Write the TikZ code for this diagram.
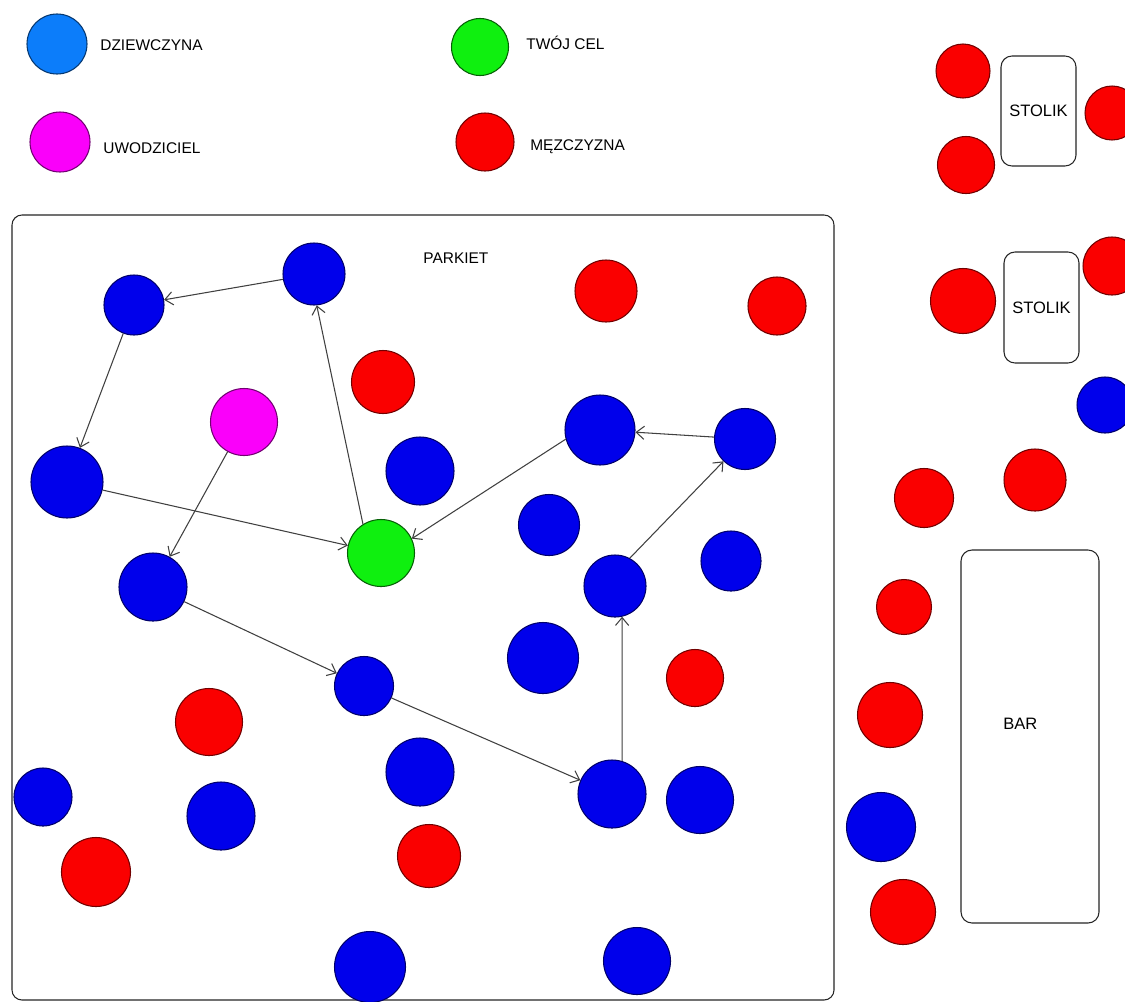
\documentclass[tikz,border=0pt]{standalone}
\usepackage{fontspec}
\setmainfont{Liberation Sans}
\usetikzlibrary{arrows.meta}
\definecolor{cblue}{RGB}{0,0,235}
\definecolor{clblue}{RGB}{12,125,250}
\definecolor{cred}{RGB}{250,0,0}
\definecolor{cgreen}{RGB}{15,240,15}
\definecolor{cmag}{RGB}{250,0,250}
\begin{document}
\begin{tikzpicture}[x=0.02cm,y=-0.02cm,
  pers/.style={circle,inner sep=0pt,line width=0.6pt,minimum size=#1*0.02cm},
  girl/.style={pers=#1,fill=cblue,draw=cblue!45!black},
  lgirl/.style={pers=#1,fill=clblue,draw=clblue!45!black},
  man/.style={pers=#1,fill=cred,draw=cred!45!black},
  seducer/.style={pers=#1,fill=cmag,draw=cmag!45!black},
  target/.style={pers=#1,fill=cgreen,draw=cgreen!40!black},
  arr/.style={draw=black!75,line width=0.6pt,-{Straight Barb[length=4.5pt,width=7.5pt]}},
  box/.style={draw=black!85,line width=0.6pt,rounded corners=0.22cm,inner sep=0pt,
    font=\fontsize{9.4}{11}\selectfont},
  lbl/.style={anchor=base west,inner sep=0pt,font=\fontsize{8.8}{10}\selectfont}]
\useasboundingbox (0,0) rectangle (1125,1001);
\clip (0,0) rectangle (1125,1001);
\fill[white] (0,0) rectangle (1125,1001);

% legend
\node[lgirl=60] (lg1) at (57,44) {};
\node[lbl] (lt1) at (100,50) {DZIEWCZYNA};
\node[seducer=60] (lg2) at (60,142) {};
\node[lbl] (lt2) at (103,153) {UWODZICIEL};
\node[target=57] (lg3) at (480,47) {};
\node[lbl] (lt3) at (526,49) {TWÓJ CEL};
\node[man=58] (lg4) at (485,142) {};
\node[lbl] (lt4) at (530,150) {MĘZCZYZNA};

% dance floor
\draw[draw=black!85,line width=0.6pt,rounded corners=0.2cm] (12,215) rectangle (834,1000);
\node[lbl] (parkiet) at (423,263) {PARKIET};

% tables and bar
\node[box,minimum width=75*0.02cm,minimum height=110*0.02cm] (st1) at (1038.5,111) {STOLIK};
\node[box,minimum width=75*0.02cm,minimum height=111*0.02cm] (st2) at (1041.5,307.5) {STOLIK};
\node[box,minimum width=138*0.02cm,minimum height=373*0.02cm] (bar) at (1030,736.5) {};
\node[lbl,font=\fontsize{9.4}{11}\selectfont] (bartxt) at (1003,729) {BAR};

% people on the floor
\node[girl=62] (A) at (314,274) {};
\node[girl=60] (B) at (134,305) {};
\node[man=62] (r1) at (606,291) {};
\node[man=58] (r2) at (777,306) {};
\node[man=63] (r3) at (383,382) {};
\node[seducer=67] (M) at (244,422) {};
\node[girl=72] (C) at (67,482) {};
\node[girl=68] (b1) at (420,471) {};
\node[girl=70] (D) at (600,430) {};
\node[girl=61] (E) at (745,439) {};
\node[target=67] (goal) at (381,553) {};
\node[girl=61] (b2) at (549,525) {};
\node[girl=60] (b3) at (731,561) {};
\node[girl=68] (F) at (153,587) {};
\node[girl=62] (G) at (615,586) {};
\node[girl=71] (b4) at (543,658) {};
\node[man=57] (r4) at (695,678) {};
\node[man=67] (r5) at (209,722) {};
\node[girl=59] (H) at (364,686) {};
\node[girl=68] (b5) at (420,772) {};
\node[girl=58] (b6) at (43,797) {};
\node[girl=68] (b7) at (221,816) {};
\node[girl=68] (I) at (612,794) {};
\node[girl=67] (b8) at (700,800) {};
\node[man=69] (r6) at (96,872) {};
\node[man=63] (r7) at (429,856) {};
\node[girl=71] (b9) at (370,967) {};
\node[girl=67] (b10) at (637,961) {};

% people outside the floor
\node[man=54] (r8) at (963,71) {};
\node[man=57] (r9) at (966,165) {};
\node[man=54] (r10) at (1112,113) {};
\node[man=65] (r11) at (963,301) {};
\node[man=58] (r12) at (1112,266) {};
\node[girl=56] (b11) at (1105,405) {};
\node[man=62] (r13) at (1035,480) {};
\node[man=59] (r14) at (924,498) {};
\node[man=55] (r15) at (904,607) {};
\node[man=65] (r16) at (890,715) {};
\node[girl=69] (b12) at (881,827) {};
\node[man=65] (r17) at (903,912) {};

% moves
\draw[arr] (A) -- (B);
\draw[arr] (B) -- (C);
\draw[arr] (C) -- (goal);
\draw[arr] (goal.122) -- (A.275);
\draw[arr] (M) -- (F);
\draw[arr] (F) -- (H);
\draw[arr] (H) -- (I);
\draw[arr] (I.73) -- (G.283);
\draw[arr] (G.62) -- (E.226);
\draw[arr] (E) -- (D);
\draw[arr] (D.195) -- (goal.25);
\end{tikzpicture}
\end{document}
